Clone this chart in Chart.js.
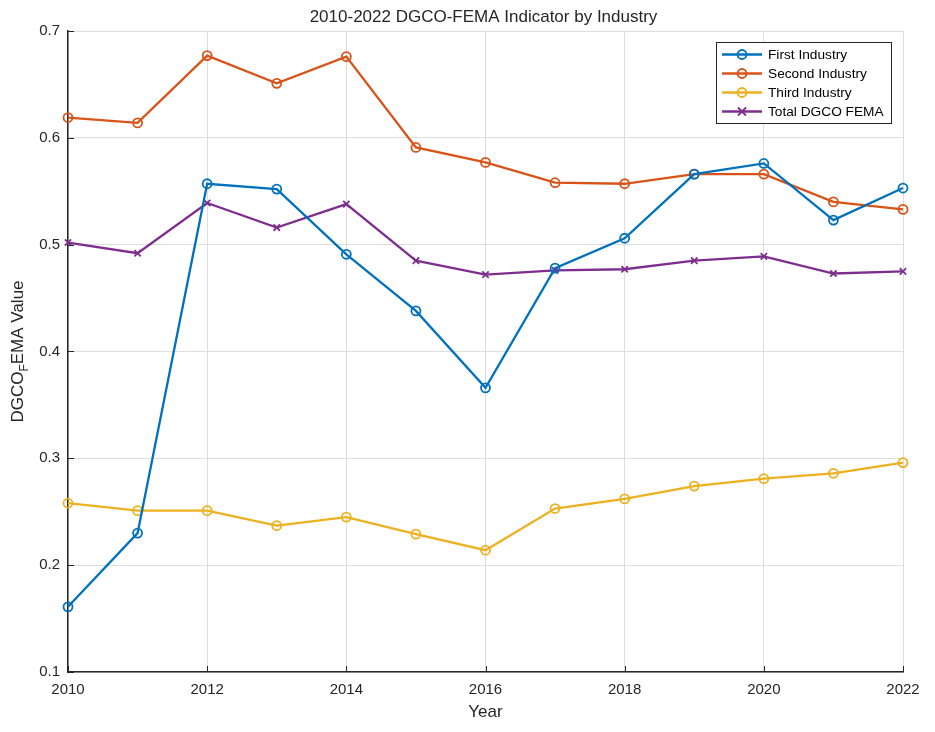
<!DOCTYPE html>
<html lang="en">
<head>
  <meta charset="UTF-8" />
  <title>2010-2022 DGCO-FEMA Indicator by Industry</title>
  <script src="https://cdn.jsdelivr.net/npm/chart.js"></script>
  <style>
    body { margin: 0; background: #fff; }
    #wrap { width: 935px; height: 732px; }
  </style>
</head>
<body>
<div id="wrap"><canvas id="chart"></canvas></div>
<script>
  const years = [2010, 2011, 2012, 2013, 2014, 2015, 2016, 2017, 2018, 2019, 2020, 2021, 2022];
  const firstIndustry  = [0.161, 0.230, 0.557, 0.552, 0.491, 0.438, 0.366, 0.478, 0.506, 0.566, 0.576, 0.523, 0.553];
  const secondIndustry = [0.619, 0.614, 0.677, 0.651, 0.676, 0.591, 0.577, 0.558, 0.557, 0.566, 0.566, 0.540, 0.533];
  const thirdIndustry  = [0.258, 0.251, 0.251, 0.237, 0.245, 0.229, 0.214, 0.253, 0.262, 0.274, 0.281, 0.286, 0.296];
  const totalFema      = [0.502, 0.492, 0.539, 0.516, 0.538, 0.485, 0.472, 0.476, 0.477, 0.485, 0.489, 0.473, 0.475];
  const seriesNames = ["First Industry", "Second Industry", "Third Industry", "Total DGCO FEMA"];

  const FONT = "'Liberation Sans', Arial, sans-serif";

  function pts(vals) {
    return vals.map((v, i) => ({ x: years[i], y: v }));
  }

  function ds(label, vals, color, marker) {
    return {
      label: label,
      data: pts(vals),
      borderColor: color,
      backgroundColor: "rgba(255,255,255,0)",
      borderWidth: 2.3,
      pointStyle: marker,
      pointRadius: 4.5,
      pointBorderWidth: 1.8,
      pointBorderColor: color,
      pointBackgroundColor: "rgba(255,255,255,0)",
      tension: 0,
      fill: false,
      clip: false
    };
  }

  // title, axis labels (with the subscript F), inward ticks and the boxed legend
  const matlabLook = {
    id: "matlabLook",
    afterDraw(chart) {
      const c = chart.ctx;
      const a = chart.chartArea;
      const xs = chart.scales.x, ys = chart.scales.y;
      c.save();

      // inward tick marks
      c.strokeStyle = "#262626";
      c.lineWidth = 1;
      xs.ticks.forEach(t => {
        const px = Math.round(xs.getPixelForValue(t.value)) + 0.5;
        c.beginPath(); c.moveTo(px, a.bottom); c.lineTo(px, a.bottom - 6); c.stroke();
      });
      ys.ticks.forEach(t => {
        const py = Math.round(ys.getPixelForValue(t.value)) + 0.5;
        c.beginPath(); c.moveTo(a.left, py); c.lineTo(a.left + 6, py); c.stroke();
      });

      c.fillStyle = "#262626";
      c.font = "17px " + FONT;
      c.textAlign = "center";
      c.textBaseline = "middle";
      c.fillText("2010-2022 DGCO-FEMA Indicator by Industry", (a.left + a.right) / 2 - 2, 17);
      c.fillText("Year", (a.left + a.right) / 2, 712);

      // y label: DGCO_F EMA Value
      c.translate(18, (a.top + a.bottom) / 2);
      c.rotate(-Math.PI / 2);
      const p1 = "DGCO", p2 = "F", p3 = "EMA Value";
      c.font = "17px " + FONT;
      const w1 = c.measureText(p1).width, w3 = c.measureText(p3).width;
      c.font = "12px " + FONT;
      const w2 = c.measureText(p2).width;
      let x0 = -(w1 + w2 + w3) / 2;
      c.textAlign = "left";
      c.font = "17px " + FONT;
      c.fillText(p1, x0, 0);
      c.font = "12px " + FONT;
      c.fillText(p2, x0 + w1, 7);
      c.font = "17px " + FONT;
      c.fillText(p3, x0 + w1 + w2, 0);
      c.setTransform(1, 0, 0, 1, 0, 0);
      c.restore();

      // legend box
      c.save();
      const lx = 716.5, ly = 42.5, lw = 175, lh = 81;
      c.fillStyle = "#fff";
      c.fillRect(lx, ly, lw, lh);
      c.strokeStyle = "#262626";
      c.lineWidth = 1;
      c.strokeRect(lx, ly, lw, lh);
      c.font = "13.7px " + FONT;
      c.textAlign = "left";
      c.textBaseline = "middle";
      chart.data.datasets.forEach((d, i) => {
        const y = 54.5 + i * 19;
        c.strokeStyle = d.borderColor;
        c.lineWidth = 2.3;
        c.beginPath(); c.moveTo(722, y); c.lineTo(762, y); c.stroke();
        c.lineWidth = 1.8;
        if (d.pointStyle === "crossRot") {
          c.beginPath();
          c.moveTo(738, y - 4); c.lineTo(746, y + 4);
          c.moveTo(738, y + 4); c.lineTo(746, y - 4);
          c.stroke();
        } else {
          c.beginPath(); c.arc(742, y, 4.5, 0, Math.PI * 2); c.stroke();
        }
        c.fillStyle = "#000";
        c.fillText(d.label, 768, y + 1);
      });
      c.restore();
    }
  };

  new Chart(document.getElementById("chart"), {
    type: "line",
    data: {
      datasets: [
        ds(seriesNames[0], firstIndustry, "#0072BD", "circle"),
        ds(seriesNames[1], secondIndustry, "#D95319", "circle"),
        ds(seriesNames[2], thirdIndustry, "#EDB120", "circle"),
        ds(seriesNames[3], totalFema, "#7E2F8E", "crossRot")
      ]
    },
    options: {
      responsive: true,
      maintainAspectRatio: false,
      animation: false,
      layout: { padding: { top: 31, right: 32, left: 0, bottom: 0 } },
      plugins: {
        legend: { display: false },
        title: { display: false },
        tooltip: { enabled: false }
      },
      scales: {
        x: {
          type: "linear",
          min: 2010,
          max: 2022,
          ticks: {
            stepSize: 2,
            color: "#262626",
            font: { family: FONT, size: 15 },
            padding: 9,
            maxRotation: 0,
            callback: v => String(v)
          },
          grid: { color: "#dedede", lineWidth: 1, tickLength: 0 },
          border: { color: "#262626", width: 1.5 },
          afterFit: s => { s.height = 60; }
        },
        y: {
          min: 0.1,
          max: 0.7,
          ticks: {
            stepSize: 0.1,
            color: "#262626",
            font: { family: FONT, size: 15 },
            padding: 8,
            callback: v => v.toFixed(1)
          },
          grid: { color: "#dedede", lineWidth: 1, tickLength: 0 },
          border: { color: "#262626", width: 1.5 },
          afterFit: s => { s.width = 68; }
        }
      }
    },
    plugins: [matlabLook]
  });
</script>
</body>
</html>
